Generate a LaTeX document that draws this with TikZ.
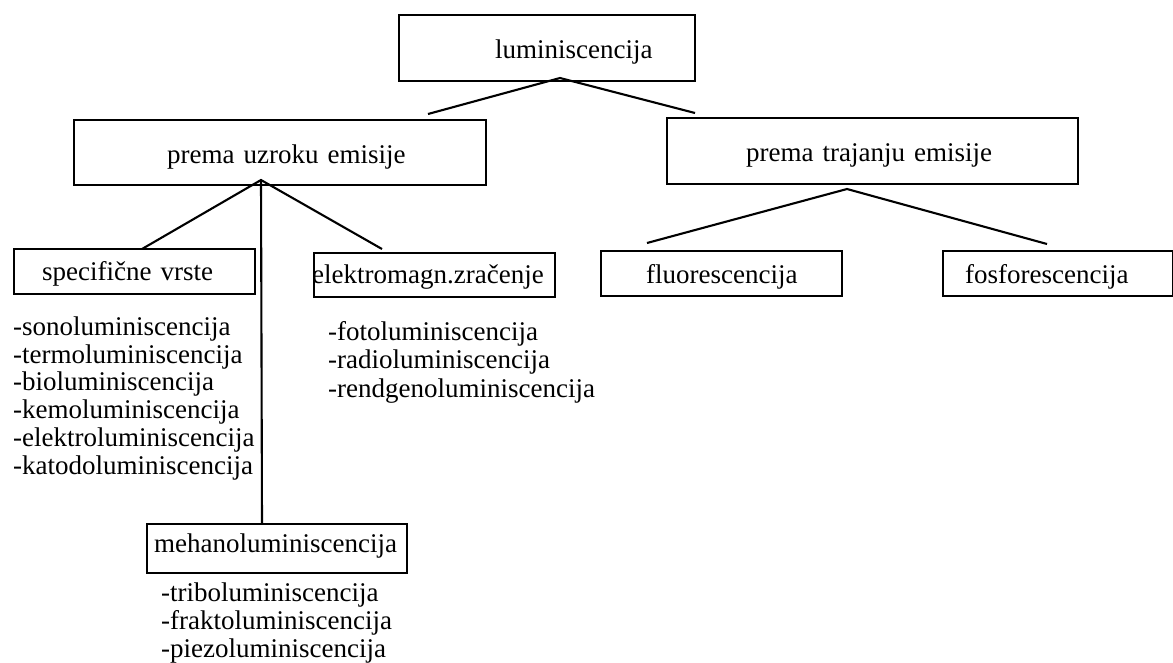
\documentclass[tikz,border=0pt]{standalone}
\usepackage{fontspec}
\setmainfont{Liberation Serif}
\setlength{\parindent}{0pt}
\begin{document}
\begin{tikzpicture}[x=1pt,y=-1pt,
  bx/.style={draw, line width=2.2pt, inner sep=0pt, align=left, anchor=north west,
    font=\fontsize{27}{28}\selectfont},
  ln/.style={line width=2.1pt},
  lst/.style={inner sep=0pt, anchor=base west, font=\fontsize{27}{28}\selectfont}]
\useasboundingbox[fill=white] (0,0) rectangle (1173,662);

% boxes
\node[bx, text width=296pt, text height=43pt, text depth=23pt] (lum) at (398,14) {\hspace*{96pt}luminiscencija};
\node[bx, text width=412pt, text height=43pt, text depth=22pt] (uz) at (73,119) {\hspace*{93pt}prema uzroku emisije};
\node[bx, text width=411pt, text height=43pt, text depth=23pt] (tr) at (666,117) {\hspace*{79pt}prema trajanju emisije};
\node[bx, text width=241pt, text height=31pt, text depth=14pt] (spec) at (13,248) {\hspace*{28pt}specifične vrste};
\node[bx, text width=241pt, text height=30pt, text depth=14pt] (em) at (313,252) {\hspace*{-2pt}elektromagn.zračenje};
\node[bx, text width=241pt, text height=32pt, text depth=13pt] (fl) at (600,250) {\hspace*{45pt}fluorescencija};
\node[bx, text width=230pt, text height=32pt, text depth=13pt] (fo) at (942,250) {\hspace*{22pt}fosforescencija};
\node[bx, text width=260pt, text height=28pt, text depth=21pt] (meh) at (146,523) {\hspace*{7pt}mehanoluminiscencija};

% connector points
\coordinate (lumA) at (560,78);
\coordinate (uzT) at (428,114);
\coordinate (trT) at (695,113);
\coordinate (uzA) at (261,180);
\coordinate (specT) at (142,249);
\coordinate (emT) at (382,249);
\coordinate (mehT) at (262,523);
\coordinate (trA) at (847,189);
\coordinate (flT) at (647,243);
\coordinate (foT) at (1047,244);

\draw[ln] (uzT) -- (lumA) -- (trT);
\draw[ln] (specT) -- (uzA) -- (emT);
\draw[ln] (uzA) -- (mehT);
\draw[ln] (flT) -- (trA) -- (foT);

% lists
\node[lst] (s1) at (13,335) {-sonoluminiscencija};
\node[lst] (s2) at (13,363) {-termoluminiscencija};
\node[lst] (s3) at (13,390) {-bioluminiscencija};
\node[lst] (s4) at (13,418) {-kemoluminiscencija};
\node[lst] (s5) at (13,446) {-elektroluminiscencija};
\node[lst] (s6) at (13,474) {-katodoluminiscencija};

\node[lst] (e1) at (328,340) {-fotoluminiscencija};
\node[lst] (e2) at (328,368.5) {-radioluminiscencija};
\node[lst] (e3) at (328,397) {-rendgenoluminiscencija};

\node[lst] (m1) at (161,601) {-triboluminiscencija};
\node[lst] (m2) at (161,629) {-fraktoluminiscencija};
\node[lst] (m3) at (161,657) {-piezoluminiscencija};
\end{tikzpicture}
\end{document}
